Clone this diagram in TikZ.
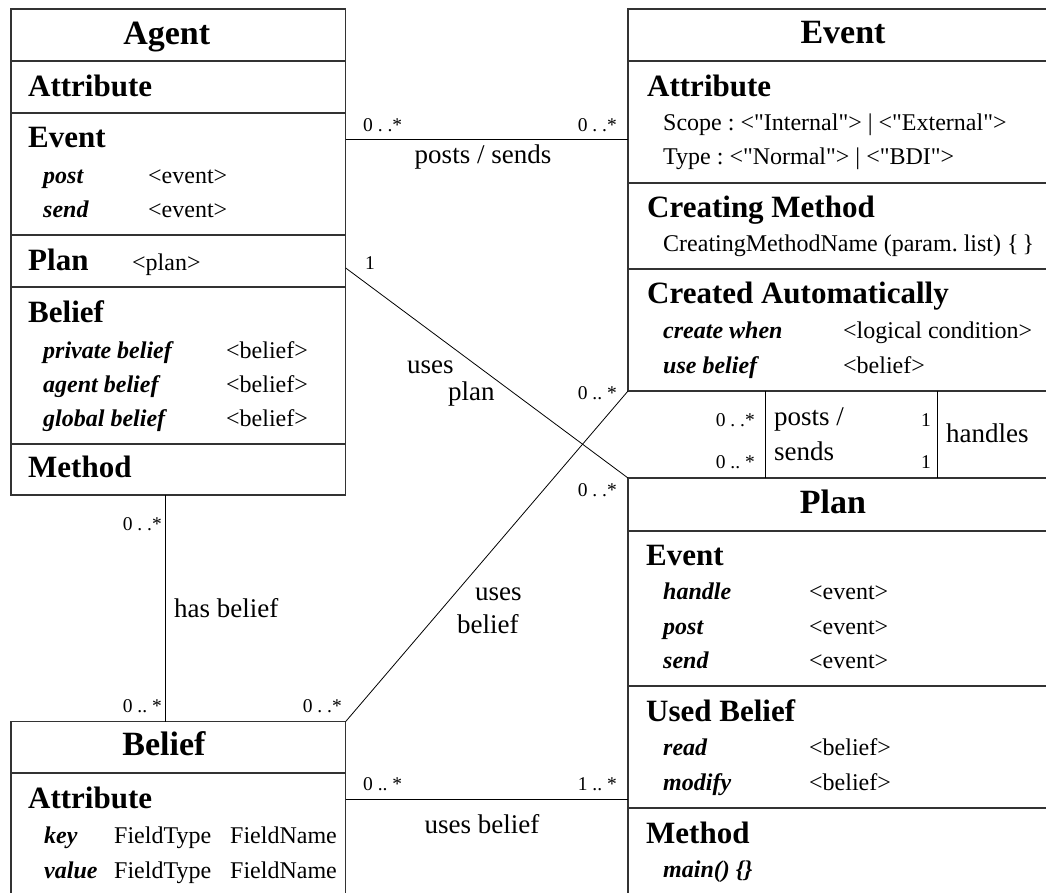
\documentclass[tikz,border=0pt]{standalone}
\usepackage{fontspec}
\setmainfont{Liberation Serif}
\frenchspacing
\begin{document}
\begin{tikzpicture}[x=1pt,y=-1pt,
  box/.style={draw=black!80, line width=1.2pt, inner sep=0pt, outer sep=0pt, anchor=north west},
  divider/.style={draw=black!80, line width=1.2pt},
  conn/.style={draw=black, line width=0.8pt},
  boxtitle/.style={font=\fontsize{34}{40}\selectfont\bfseries, anchor=base, inner sep=0pt},
  sect/.style={font=\fontsize{31}{36}\selectfont\bfseries, anchor=base west, inner sep=0pt},
  kw/.style={font=\fontsize{24}{28}\selectfont\bfseries\itshape, anchor=base west, inner sep=0pt},
  val/.style={font=\fontsize{24}{28}\selectfont, anchor=base west, inner sep=0pt},
  lbl/.style={font=\fontsize{27}{32}\selectfont, inner sep=0pt},
  mult/.style={font=\fontsize{19.5}{22}\selectfont, inner sep=0pt}
]
\useasboundingbox (0,0) rectangle (1046,892);
\clip (0,0) rectangle (1046,892);

% ---------- boxes ----------
\node[box, minimum width=334.7pt, minimum height=486pt] (agent) at (11,9) {};
\node[box, minimum width=450pt, minimum height=382pt] (event) at (628,9) {};
\node[box, minimum width=450pt, minimum height=430pt] (plan) at (628,478) {};
\node[box, minimum width=334.7pt, minimum height=200pt] (belief) at (11,721.5) {};

\newcommand\hdiv[2]{\draw[divider] ([yshift=-#2pt]#1.north west) -- ([yshift=-#2pt]#1.north east);}
% Agent dividers
\hdiv{agent}{52}\hdiv{agent}{104}\hdiv{agent}{226}\hdiv{agent}{278}\hdiv{agent}{435}
% Event dividers
\hdiv{event}{52}\hdiv{event}{174}\hdiv{event}{260}
% Plan dividers
\hdiv{plan}{53}\hdiv{plan}{208}\hdiv{plan}{330}
% Belief divider
\hdiv{belief}{51.5}

% ---------- connectors ----------
\draw[conn] ([yshift=-130pt]agent.north east) -- ([yshift=-130pt]event.north west);
\draw[conn] ([yshift=-259pt]agent.north east) -- (plan.north west);
\draw[conn] (belief.north east) -- (event.south west);
\draw[conn] ([xshift=154.7pt]agent.south west) -- ([xshift=154.7pt]belief.north west);
\draw[conn] ([yshift=-77.5pt]belief.north east) -- ([yshift=-321pt]plan.north west);
\draw[conn] ([xshift=137.7pt]event.south west) -- ([xshift=137.7pt]plan.north west);
\draw[conn] ([xshift=309.3pt]event.south west) -- ([xshift=309.3pt]plan.north west);

% ---------- Agent texts ----------
\node[boxtitle] (agT) at (166.7,44) {Agent};
\node[sect] (agA) at (28,96) {Attribute};
\node[sect] (agE) at (28,147) {Event};
\node[kw] (agE1) at (43,183) {post};
\node[val] (agE1v) at (148,183) {<event>};
\node[kw] (agE2) at (43,217) {send};
\node[val] (agE2v) at (148,217) {<event>};
\node[sect] (agP) at (28,270) {Plan};
\node[val] (agPv) at (132,270) {<plan>};
\node[sect] (agB) at (28,322) {Belief};
\node[kw] (agB1) at (43,358) {private belief};
\node[val] (agB1v) at (226,358) {<belief>};
\node[kw] (agB2) at (43,392) {agent belief};
\node[val] (agB2v) at (226,392) {<belief>};
\node[kw] (agB3) at (43,426) {global belief};
\node[val] (agB3v) at (226,426) {<belief>};
\node[sect] (agM) at (28,477) {Method};

% ---------- Event texts ----------
\node[boxtitle] (evT) at (843,43) {Event};
\node[sect] (evA) at (647,96) {Attribute};
\node[val] (evA1) at (663,130) {Scope : <\textquotedbl Internal\textquotedbl> | <\textquotedbl External\textquotedbl>};
\node[val] (evA2) at (663,164) {Type : <\textquotedbl Normal\textquotedbl> | <\textquotedbl BDI\textquotedbl>};
\node[sect] (evC) at (647,217) {Creating Method};
\node[val] (evC1) at (663,251) {CreatingMethodName (param. list) \{\,\}};
\node[sect] (evAu) at (647,303) {Created Automatically};
\node[kw] (evAu1) at (663,338) {create when};
\node[val] (evAu1v) at (843,338) {<logical condition>};
\node[kw] (evAu2) at (663,373) {use belief};
\node[val] (evAu2v) at (843,373) {<belief>};

% ---------- Plan texts ----------
\node[boxtitle] (plT) at (833,513) {Plan};
\node[sect] (plE) at (646,565) {Event};
\node[kw] (plE1) at (663,599) {handle};
\node[val] (plE1v) at (809,599) {<event>};
\node[kw] (plE2) at (663,634) {post};
\node[val] (plE2v) at (809,634) {<event>};
\node[kw] (plE3) at (663,668) {send};
\node[val] (plE3v) at (809,668) {<event>};
\node[sect] (plU) at (646,721) {Used Belief};
\node[kw] (plU1) at (663,755) {read};
\node[val] (plU1v) at (809,755) {<belief>};
\node[kw] (plU2) at (663,790) {modify};
\node[val] (plU2v) at (809,790) {<belief>};
\node[sect] (plM) at (646,843) {Method};
\node[kw] (plM1) at (663,877) {main() \{\}};

% ---------- Belief texts ----------
\node[boxtitle] (beT) at (164,755) {Belief};
\node[sect] (beA) at (28,808) {Attribute};
\node[kw] (beA1) at (44,843) {key};
\node[val] (beA1t) at (114,843) {FieldType};
\node[val] (beA1n) at (230,843) {FieldName};
\node[kw] (beA2) at (44,878) {value};
\node[val] (beA2t) at (114,878) {FieldType};
\node[val] (beA2n) at (230,878) {FieldName};

% ---------- connector labels ----------
\node[mult, anchor=base west] (m1) at (363,131) {0 . .*};
\node[mult, anchor=base east] (m2) at (617,131) {0 . .*};
\node[lbl, anchor=base] (l1) at (483,163) {posts / sends};
\node[mult, anchor=base west] (m3) at (365,269) {1};
\node[lbl, anchor=base west] (l2a) at (407,373) {uses};
\node[lbl, anchor=base west] (l2b) at (448,400) {plan};
\node[mult, anchor=base east] (m4) at (617,399) {0 .. *};
\node[mult, anchor=base east] (m5) at (617,496) {0 . .*};
\node[lbl, anchor=base west] (l3a) at (475,600) {uses};
\node[lbl, anchor=base west] (l3b) at (457,633) {belief};
\node[mult, anchor=base east] (m6) at (162,530) {0 . .*};
\node[lbl, anchor=base west] (l4) at (174,617) {has belief};
\node[mult, anchor=base east] (m7) at (162,712) {0 .. *};
\node[mult, anchor=base east] (m8) at (342,712) {0 . .*};
\node[mult, anchor=base west] (m9) at (363,790) {0 .. *};
\node[mult, anchor=base east] (m10) at (617,790) {1 .. *};
\node[lbl, anchor=base] (l5) at (482,833) {uses belief};
\node[mult, anchor=base east] (m11) at (755,426) {0 . .*};
\node[mult, anchor=base east] (m12) at (755,468) {0 .. *};
\node[lbl, anchor=base west] (l6a) at (774,425) {posts /};
\node[lbl, anchor=base west] (l6b) at (774,460) {sends};
\node[mult, anchor=base east] (m13) at (931,426) {1};
\node[mult, anchor=base east] (m14) at (931,468) {1};
\node[lbl, anchor=base west] (l7) at (946,442) {handles};
\end{tikzpicture}
\end{document}
